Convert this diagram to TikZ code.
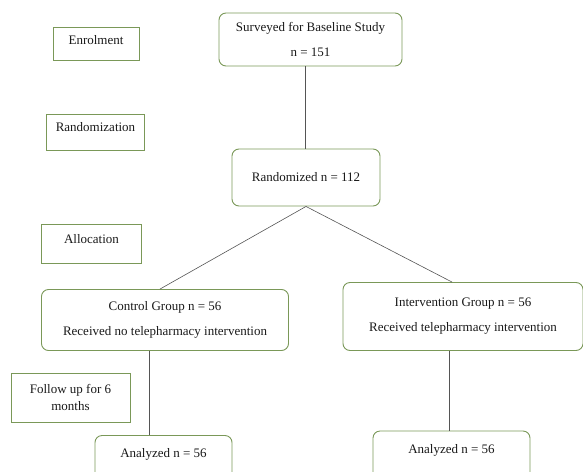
\documentclass[tikz,border=0pt]{standalone}
\usepackage{fontspec}
\setmainfont{Liberation Serif}
\usetikzlibrary{calc}
\definecolor{boxgreen}{RGB}{122,152,88}
\definecolor{linegray}{RGB}{85,85,85}
\begin{document}
\begin{tikzpicture}[x=1pt,y=-1pt,
  every node/.style={font=\fontsize{13}{15}\selectfont, text=black!90, inner sep=0pt},
  mainbox/.style={draw=boxgreen, line width=0.9pt, rounded corners=7pt, align=center},
  sidebox/.style={draw=boxgreen, line width=0.9pt, align=center},
  conn/.style={draw=linegray, line width=0.6pt}]
\useasboundingbox (0,0) rectangle (583,471);
\clip (0,0) rectangle (583,471);
% side labels
\node[sidebox, minimum width=86, minimum height=33] (enrol) at (96,43.5) {Enrolment\\[-8pt]};
\node[sidebox, minimum width=98, minimum height=36] (randlab) at (95.5,132) {Randomization\\[-5pt]};
\node[sidebox, minimum width=100, minimum height=39] (alloc) at (91.5,243.5) {Allocation\\[-6pt]};
\node[sidebox, minimum width=119, minimum height=49] (follow) at (70.5,397.5) {Follow up for 6\\[2pt]months};
% main boxes
\node[mainbox, minimum width=183, minimum height=53] (survey) at (310.5,39.5) {Surveyed for Baseline Study\\[10pt]n = 151};
\node[mainbox, minimum width=148, minimum height=57] (rand) at (306,177.5) {Randomized n = 112};
\node[mainbox, minimum width=247, minimum height=61] (ctrl) at (165,320) {Control Group n = 56\\[10pt]Received no telepharmacy intervention};
\node[mainbox, minimum width=240, minimum height=68] (interv) at (463,316.5) {Intervention Group n = 56\\[10pt]Received telepharmacy intervention};
\node[mainbox, minimum width=137, minimum height=50] (anL) at (163.5,460.5) {Analyzed n = 56\\[1pt]};
\node[mainbox, minimum width=157, minimum height=52] (anR) at (451.5,457) {Analyzed n = 56\\[1pt]};
% connectors
\draw[conn] ([xshift=-1]rand.north) -- ([xshift=-1]rand.north |- survey.south);
\draw[conn] (rand.south) -- ([xshift=-5]ctrl.north);
\draw[conn] (rand.south) -- ([xshift=-11]interv.north);
\draw[conn] ([xshift=-16]ctrl.south) -- ([xshift=-16]ctrl.south |- anL.north);
\draw[conn] ([xshift=-2]anR.north) -- ([xshift=-2]anR.north |- interv.south);
\end{tikzpicture}
\end{document}
